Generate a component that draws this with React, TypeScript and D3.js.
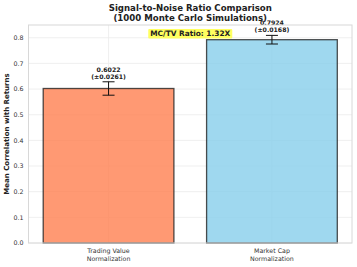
import React from 'react';
import * as d3 from 'd3';

const categories = ['Trading Value\nNormalization', 'Market Cap\nNormalization'];
const means = [0.6022, 0.7924];
const stds = [0.0261, 0.0168];
const colors = ['#FF7F50', '#87CEEB'];
const yTicks = [0, 0.1, 0.2, 0.3, 0.4, 0.5, 0.6, 0.7, 0.8];
const ratioLabel = 'MC/TV Ratio: 1.32X';

const W = 357;
const H = 267;
const margin = { top: 25, right: 5, bottom: 24, left: 28.5 };

const App = () => {
  const innerW = W - margin.left - margin.right;
  const innerH = H - margin.top - margin.bottom;
  const yMax = d3.max(means.map((m, i) => m + stds[i])) * 1.05;

  const x = d3.scaleLinear().domain([-0.49, categories.length - 1 + 0.49]).range([0, innerW]);
  const y = d3.scaleLinear().domain([0, yMax]).range([innerH, 0]);
  const bw = x(0.8) - x(0);
  const font = 'DejaVu Sans, sans-serif';

  return (
    <svg width={W} height={H} style={{ position: 'absolute', left: 0, top: 0, background: '#fff' }} fontFamily={font}>
      <text x={margin.left + innerW / 2} y={11} textAnchor="middle" fontSize={8.6} fontWeight="bold" fill="#222">
        Signal-to-Noise Ratio Comparison
      </text>
      <text x={margin.left + innerW / 2} y={21} textAnchor="middle" fontSize={8.6} fontWeight="bold" fill="#222">
        (1000 Monte Carlo Simulations)
      </text>
      <g transform={`translate(${margin.left},${margin.top})`}>
        {yTicks.map(t => (
          <g key={t}>
            <line x1={0} x2={innerW} y1={y(t)} y2={y(t)} stroke="#ebebeb" strokeWidth={0.8} />
            <text x={-5} y={y(t)} dy="0.35em" textAnchor="end" fontSize={6.3} fill="#333">
              {d3.format('.1f')(t)}
            </text>
          </g>
        ))}
        {categories.map((c, i) => (
          <line key={'vg' + i} x1={x(i)} x2={x(i)} y1={0} y2={innerH} stroke="#ebebeb" strokeWidth={0.8} />
        ))}
        {means.map((m, i) => (
          <rect key={i} x={x(i) - bw / 2} y={y(m)} width={bw} height={innerH - y(m)}
            fill={colors[i]} fillOpacity={0.8} stroke="#222" strokeOpacity={0.8} strokeWidth={1.3} />
        ))}
        {means.map((m, i) => {
          const cx = x(i);
          return (
            <g key={'e' + i} stroke="#111" strokeWidth={1}>
              <line x1={cx} x2={cx} y1={y(m + stds[i])} y2={y(m - stds[i])} />
              <line x1={cx - 6} x2={cx + 6} y1={y(m + stds[i])} y2={y(m + stds[i])} />
              <line x1={cx - 6} x2={cx + 6} y1={y(m - stds[i])} y2={y(m - stds[i])} />
            </g>
          );
        })}
        {means.map((m, i) => (
          <text key={'l' + i} x={x(i)} y={y(m + stds[i]) - 10} textAnchor="middle" fontSize={6.2} fontWeight="bold" fill="#222">
            <tspan x={x(i)} dy={0}>{m.toFixed(4)}</tspan>
            <tspan x={x(i)} dy={7}>{`(±${stds[i].toFixed(4)})`}</tspan>
          </text>
        ))}
        <rect x={0} y={0} width={innerW} height={innerH} fill="none" stroke="#d8d8d8" strokeWidth={1} />
        {categories.map((c, i) => (
          <text key={'x' + i} x={x(i)} y={innerH + 10} textAnchor="middle" fontSize={6.3} fill="#333">
            {c.split('\n').map((s, k) => (
              <tspan key={k} x={x(i)} dy={k === 0 ? 0 : 7.5}>{s}</tspan>
            ))}
          </text>
        ))}
        <g transform={`translate(${x(0.5) - 29},${8.5})`}>
          <rect x={-13} y={-4.5} width={84} height={9.5} fill="#ffff44" fillOpacity={0.85} rx={1} />
          <text x={29} y={0} dy="0.35em" textAnchor="middle" fontSize={7.4} fontWeight="bold" fill="#222">
            {ratioLabel}
          </text>
        </g>
      </g>
      <text transform={`translate(9,${margin.top + innerH / 2}) rotate(-90)`} textAnchor="middle" fontSize={7} fontWeight="bold" fill="#222">
        Mean Correlation with Returns
      </text>
    </svg>
  );
};

export default App;
